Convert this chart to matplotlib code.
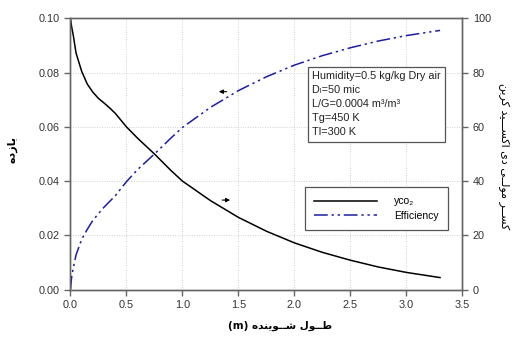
import matplotlib.pyplot as plt
from matplotlib.lines import Line2D

# data along the scrubber length
length = [0.0, 0.01, 0.025, 0.05, 0.1, 0.15, 0.2, 0.25, 0.3, 0.35, 0.4, 0.5,
          0.6, 0.75, 0.9, 1.0, 1.25, 1.5, 1.75, 2.0, 2.25, 2.5, 2.75, 3.0, 3.3]
yco2 = [0.100, 0.097, 0.0938, 0.0872, 0.0805, 0.0758, 0.0728, 0.0705, 0.0688,
        0.0670, 0.0650, 0.0600, 0.0558, 0.0500, 0.0438, 0.0400, 0.0328,
        0.0266, 0.0215, 0.0172, 0.0137, 0.0108, 0.0083, 0.0063, 0.0044]
efficiency = [0.0, 4.5, 8.0, 12.8, 18.5, 22.2, 25.5, 28.0, 30.4, 32.5, 34.6,
              39.8, 44.3, 50.0, 56.0, 59.8, 67.2, 73.4, 78.5, 82.8, 86.3,
              89.2, 91.7, 93.7, 95.6]

x_ticks = [0.0, 0.5, 1.0, 1.5, 2.0, 2.5, 3.0, 3.5]
left_ticks = [0.00, 0.02, 0.04, 0.06, 0.08, 0.10]
right_ticks = [0, 20, 40, 60, 80, 100]

# simple Persian shaping: contextual forms (iso, fin, ini, med) + visual reversal
FORMS = {
    'ب': ('\uFE8F', '\uFE90', '\uFE91', '\uFE92'),
    'ا': ('\uFE8D', '\uFE8E', None, None),
    'ز': ('\uFEAF', '\uFEB0', None, None),
    'د': ('\uFEA9', '\uFEAA', None, None),
    'ر': ('\uFEAD', '\uFEAE', None, None),
    'و': ('\uFEED', '\uFEEE', None, None),
    'ه': ('\uFEE9', '\uFEEA', '\uFEEB', '\uFEEC'),
    'ک': ('\uFB8E', '\uFB8F', '\uFB90', '\uFB91'),
    'س': ('\uFEB1', '\uFEB2', '\uFEB3', '\uFEB4'),
    'ش': ('\uFEB5', '\uFEB6', '\uFEB7', '\uFEB8'),
    'م': ('\uFEE1', '\uFEE2', '\uFEE3', '\uFEE4'),
    'ل': ('\uFEDD', '\uFEDE', '\uFEDF', '\uFEE0'),
    'ی': ('\uFBFC', '\uFBFD', '\uFBFE', '\uFBFF'),
    'ن': ('\uFEE5', '\uFEE6', '\uFEE7', '\uFEE8'),
    'ط': ('\uFEC1', '\uFEC2', '\uFEC3', '\uFEC4'),
}
TATWEEL = '\u0640'


def joins_left(ch):
    return ch == TATWEEL or (ch in FORMS and FORMS[ch][2] is not None)


def joins_right(ch):
    return ch == TATWEEL or ch in FORMS


def shape(word):
    out = []
    for i, ch in enumerate(word):
        if ch not in FORMS:
            out.append(ch)
            continue
        prev = word[i - 1] if i > 0 else ''
        nxt = word[i + 1] if i + 1 < len(word) else ''
        a = prev != '' and joins_left(prev)
        b = nxt != '' and joins_right(nxt) and FORMS[ch][2] is not None
        iso, fin, ini, med = FORMS[ch]
        if a and b:
            out.append(med)
        elif a:
            out.append(fin)
        elif b:
            out.append(ini)
        else:
            out.append(iso)
    return ''.join(out)[::-1]


def persian(text):
    return ' '.join(shape(w) for w in text.split(' ')[::-1])


plt.rcParams['font.family'] = ['Liberation Sans', 'DejaVu Sans']

eff_style = (0, (9, 2.5, 1.5, 2.5, 1.5, 2.5))
eff_color = '#1c1ca8'

fig = plt.figure(figsize=(5.24, 3.47), dpi=100)
ax = fig.add_axes([0.1345, 0.1657, 0.748, 0.781])
ax2 = ax.twinx()

ax.plot(length, yco2, color='black', lw=1.1)
ax2.plot(length, efficiency, color=eff_color, lw=1.1, linestyle=eff_style)

ax.set_xlim(0, 3.5)
ax.set_ylim(0, 0.1)
ax2.set_ylim(0, 100)
ax.set_xticks(x_ticks)
ax.set_xticklabels([f'{v:.1f}' for v in x_ticks])
ax.set_yticks(left_ticks)
ax.set_yticklabels([f'{v:.2f}' for v in left_ticks])
ax2.set_yticks(right_ticks)

ax.grid(True, linestyle=(0, (1, 1.5)), color='#cfcfcf', lw=0.7)
ax.set_axisbelow(True)

for a in (ax, ax2):
    for s in a.spines.values():
        s.set_color('#666666')
        s.set_linewidth(1.0)
    a.tick_params(labelsize=7.8, colors='#333333', color='#666666',
                  direction='out', length=4, width=1.0)

# direction arrows pointing to each curve's axis
ax.annotate('', xy=(1.30, 0.073), xytext=(1.42, 0.073),
            arrowprops=dict(arrowstyle='-|>', color='black', lw=0.8,
                            mutation_scale=6))
ax.annotate('', xy=(1.45, 0.033), xytext=(1.33, 0.033),
            arrowprops=dict(arrowstyle='-|>', color='black', lw=0.8,
                            mutation_scale=6))

# conditions box
info = ('Humidity=0.5 kg/kg Dry air\nDₗ=50 mic\n'
        'L/G=0.0004 m³/m³\nTg=450 K\nTl=300 K')
ax.text(2.16, 0.0805, info, fontsize=7.8, va='top', ha='left',
        linespacing=1.5, color='#222222',
        bbox=dict(boxstyle='square,pad=0.4', fc='white', ec='#555555', lw=0.9))

handles = [Line2D([], [], color='black', lw=1.1),
           Line2D([], [], color=eff_color, lw=1.1, linestyle=eff_style)]
leg = ax.legend(handles, ['yco₂', 'Efficiency'],
                loc='upper left', bbox_to_anchor=(0.598, 0.378),
                fontsize=7.5, handlelength=6.0, handletextpad=1.7,
                borderpad=0.9, borderaxespad=0, labelspacing=0.45,
                fancybox=False, framealpha=1, edgecolor='#555555')
leg.get_frame().set_linewidth(0.9)

fig.text(0.0235, 0.57, persian('بازده'), rotation=90, ha='center',
         va='center', fontsize=8, fontweight='bold', family='DejaVu Sans')
fig.text(0.962, 0.55, persian('کســر مولــی دی اکســـید کربن'), rotation=270,
         ha='center', va='center', fontsize=8, family='DejaVu Sans')
fig.text(0.535, 0.06, '(m) ' + persian('طــول شــوینده'), ha='center',
         va='center', fontsize=7.5, fontweight='bold', family='DejaVu Sans')

fig.savefig('out.png', dpi=100)
